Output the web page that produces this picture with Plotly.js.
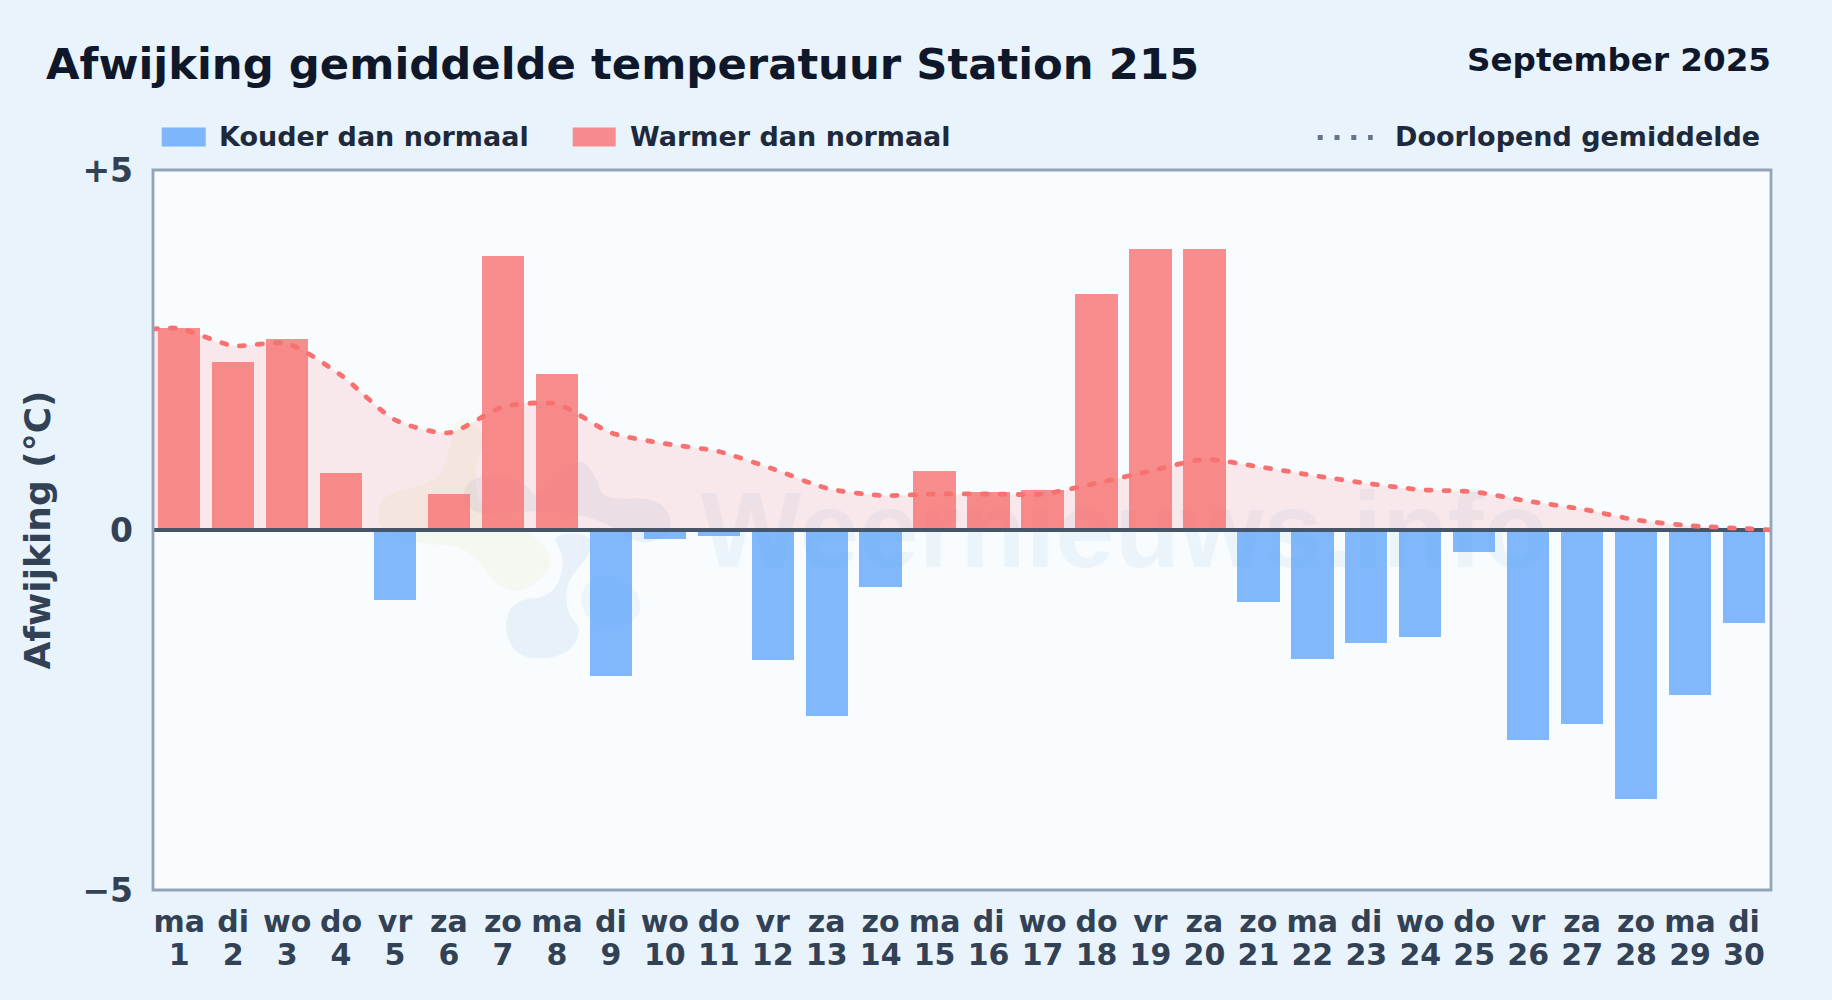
<!DOCTYPE html>
<html><head><meta charset="utf-8">
<script src="https://cdn.plot.ly/plotly-3.0.1.min.js"></script>
<style>
html,body{margin:0;padding:0;background:#e8f3fc;}
#chart{width:1832px;height:1000px;}
.scatterlayer .js-line{stroke-linecap:round;}
</style></head><body><div id="chart"></div>
<script>
const days=[1,2,3,4,5,6,7,8,9,10,11,12,13,14,15,16,17,18,19,20,21,22,23,24,25,26,27,28,29,30];
const weekdays=['ma','di','wo','do','vr','za','zo','ma','di','wo','do','vr','za','zo','ma','di','wo','do','vr','za','zo','ma','di','wo','do','vr','za','zo','ma','di'];
const deviations=[2.80,2.34,2.65,0.79,-0.97,0.50,3.80,2.16,-2.03,-0.13,-0.08,-1.80,-2.58,-0.79,0.82,0.53,0.56,3.28,3.90,3.90,-1.00,-1.79,-1.57,-1.49,-0.31,-2.92,-2.69,-3.73,-2.29,-1.29];
const runningX=[0.5,1,2,3,4,5,6,7,8,9,10,11,12,13,14,15,16,17,18,19,20,21,22,23,24,25,26,27,28,29,30,30.5];
const runningMean=[2.79,2.80,2.56,2.59,2.15,1.53,1.35,1.71,1.75,1.35,1.20,1.09,0.85,0.58,0.48,0.50,0.50,0.50,0.65,0.82,0.98,0.88,0.76,0.65,0.56,0.53,0.40,0.29,0.14,0.06,0.02,0.00];
const yTicks=[-5,0,5], yTickText=['\u22125','0','+5'];
const zeroX=[0.5,30.5], zeroY=[0,0];
const C={cold:'rgba(96,165,250,0.79)',warm:'rgba(248,113,113,0.8)',mean:'#f87171',fill:'rgba(255,100,100,0.13)',axis:'#94a3b8',zero:'#475569',tick:'#334155',title:'#0f172a',legend:'#1e293b',dots:'#64748b',plot:'#f8fcff'};
const F='"DejaVu Sans"';
const W=1832,H=1000,L=153.3,R=1771.3,T=169.5,B=890.3;
const px=x=>((x-L)/(R-L)).toFixed(5), py=y=>((B-y)/(B-T)).toFixed(5);
function rectPaper(x0,x1,y0,y1,color){return{type:'rect',xref:'paper',yref:'paper',x0:px(x0),x1:px(x1),y0:py(y0),y1:py(y1),fillcolor:color,line:{width:0},layer:'above'};}
function blob(pts,color){
  const mid=(a,b)=>[(a[0]+b[0])/2,(a[1]+b[1])/2];
  const m0=mid(pts[pts.length-1],pts[0]);
  let d='M'+px(m0[0])+','+py(m0[1]);
  pts.forEach((p,i)=>{const m=mid(p,pts[(i+1)%pts.length]);d+=' Q'+px(p[0])+','+py(p[1])+' '+px(m[0])+','+py(m[1]);});
  return{type:'path',xref:'paper',yref:'paper',path:d+' Z',fillcolor:color,line:{width:0},layer:'below'};
}
const z=(X,Y)=>[360+X/3,400+Y/3];
const blobYellow=[[50,390],[60,280],[230,250],[270,160],[280,60],[330,50],[380,120],[340,210],[360,330],[540,410],[590,500],[480,585],[400,550],[330,440],[170,430]].map(p=>z(p[0],p[1]));
const blobUpper=[[300,270],[370,215],[500,250],[530,300],[600,230],[660,170],[710,230],[730,300],[900,290],[950,390],[850,440],[760,380],[660,340],[500,330],[340,350]].map(p=>z(p[0],p[1]));
const blobLower=[[430,690],[460,600],[580,590],[620,480],[570,400],[700,400],[690,470],[620,540],[620,640],[670,690],[620,770],[480,780]].map(p=>z(p[0],p[1]));
const blobRight=[[650,590],[720,510],[830,560],[850,640],[780,690],[700,680]].map(p=>z(p[0],p[1]));
const ax={range:[0.515,30.5],type:'linear',showgrid:false,zeroline:false,fixedrange:true};
const ay={range:[-5,5],type:'linear',showgrid:false,zeroline:false,fixedrange:true};
const overX=(o,ya)=>Object.assign({},ax,{overlaying:'x',anchor:ya,showline:false,showticklabels:false,ticks:''});
const overY=(o,xa)=>Object.assign({},ay,{overlaying:'y',anchor:xa,showline:false,showticklabels:false,ticks:''});
const traces=[
 {type:'scatter',mode:'text',x:[18.52],y:[-0.14],text:['Weernieuws.info'],textfont:{family:'"Liberation Sans"',size:107,weight:700,color:'rgba(90,135,200,0.08)'},textposition:'middle center',hoverinfo:'skip',showlegend:false,xaxis:'x',yaxis:'y',cliponaxis:false},
 {type:'scatter',mode:'lines',x:runningX,y:runningMean,fill:'tozeroy',fillcolor:C.fill,line:{width:0,shape:'spline',smoothing:0.7},hoverinfo:'skip',showlegend:false,xaxis:'x',yaxis:'y'},
 {type:'bar',x:days,y:deviations,width:0.785,marker:{color:deviations.map(v=>v<0?C.cold:C.warm),line:{width:0}},showlegend:false,xaxis:'x2',yaxis:'y2'},
 {type:'scatter',mode:'lines',x:zeroX,y:zeroY,line:{color:C.zero,width:4.2},hoverinfo:'skip',showlegend:false,xaxis:'x3',yaxis:'y3'},
 {type:'scatter',mode:'lines',name:'Doorlopend gemiddelde',x:runningX,y:runningMean,line:{color:C.mean,width:4.8,dash:'5px,13px',shape:'spline',smoothing:0.7},showlegend:false,xaxis:'x3',yaxis:'y3'}
];
const layout={
 width:W,height:H,paper_bgcolor:'rgba(0,0,0,0)',plot_bgcolor:C.plot,showlegend:false,bargap:0,
 margin:{l:L,r:W-R,t:T,b:H-B,pad:0,autoexpand:false},
 title:{text:'Afwijking gemiddelde temperatuur Station 215',font:{family:F,size:43.35,weight:700,color:C.title},x:46/W,xanchor:'left',xref:'container',y:1-64/H,yanchor:'middle'},
 xaxis:Object.assign({},ax,{tickmode:'array',tickvals:days,ticktext:weekdays,tickfont:{family:F,size:30,weight:700,color:C.tick},ticks:'',tickangle:0,ticklabelstandoff:11,automargin:false,showline:false}),
 yaxis:Object.assign({},ay,{tickmode:'array',tickvals:yTicks,ticktext:yTickText,tickfont:{family:F,size:33,weight:700,color:C.tick},ticks:'',ticklabelstandoff:19,automargin:false,showline:false,title:{text:'Afwijking (\u00b0C)',font:{family:F,size:36,weight:700,color:C.tick},standoff:20}}),
 xaxis2:Object.assign({},ax,{overlaying:'x',anchor:'y2',tickmode:'array',tickvals:days,ticktext:days.map(String),tickfont:{family:F,size:30,weight:700,color:C.tick},ticks:'',tickangle:0,ticklabelstandoff:44,automargin:false}),
 yaxis2:overY(0,'x2'),
 xaxis3:overX(0,'y3'),
 yaxis3:overY(0,'x3'),
 annotations:[
  {xref:'paper',yref:'paper',x:px(1773),y:py(59),xanchor:'right',yanchor:'middle',text:'September 2025',showarrow:false,font:{family:F,size:32.6,weight:700,color:C.title}},
  {xref:'paper',yref:'paper',x:px(217),y:py(136),xanchor:'left',yanchor:'middle',text:'Kouder dan normaal',showarrow:false,font:{family:F,size:27,weight:700,color:C.legend}},
  {xref:'paper',yref:'paper',x:px(628),y:py(136),xanchor:'left',yanchor:'middle',text:'Warmer dan normaal',showarrow:false,font:{family:F,size:27,weight:700,color:C.legend}},
  {xref:'paper',yref:'paper',x:px(1762),y:py(136),xanchor:'right',yanchor:'middle',text:'Doorlopend gemiddelde',showarrow:false,font:{family:F,size:27,weight:700,color:C.legend}}
 ],
 shapes:[
  blob(blobYellow,'rgba(215,225,130,0.12)'),
  blob(blobUpper,'rgba(100,140,200,0.10)'),
  blob(blobLower,'rgba(100,150,200,0.10)'),
  blob(blobRight,'rgba(100,150,220,0.08)'),
  rectPaper(162,206,127,146,C.cold),
  rectPaper(573,616,127,146,C.warm),
  {type:'line',xref:'paper',yref:'paper',x0:px(1318),x1:px(1373),y0:py(137),y1:py(137),line:{color:C.dots,width:5,dash:'5px,11.8px'},layer:'above'},
  {type:'rect',xref:'paper',yref:'paper',x0:0,x1:1,y0:0,y1:1,fillcolor:'rgba(0,0,0,0)',line:{color:C.axis,width:2.8},layer:'above'}
 ]
};
Plotly.newPlot('chart',traces,layout,{displayModeBar:false,staticPlot:true});
</script></body></html>
